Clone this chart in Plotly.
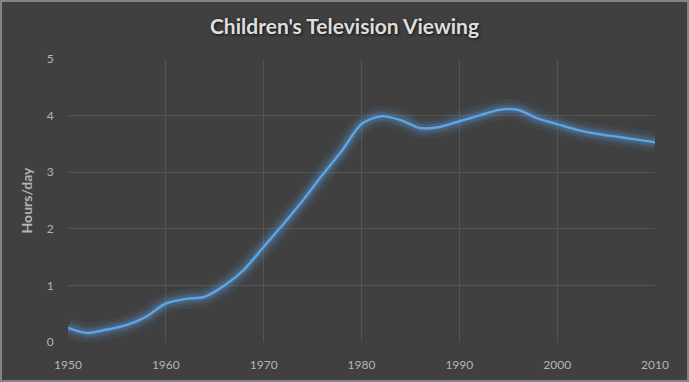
import plotly.graph_objects as go

years = [1950, 1952, 1954, 1956, 1958, 1960, 1962, 1964, 1966, 1968, 1970, 1972, 1974,
         1976, 1978, 1980, 1982, 1984, 1986, 1988, 1990, 1992, 1994, 1996, 1998, 2000,
         2002, 2004, 2006, 2008, 2010]
hours = [0.25, 0.16, 0.22, 0.30, 0.45, 0.68, 0.76, 0.80, 1.00, 1.28, 1.68, 2.08, 2.50,
         2.95, 3.38, 3.85, 3.99, 3.92, 3.78, 3.80, 3.90, 4.00, 4.10, 4.10, 3.95, 3.85,
         3.75, 3.68, 3.63, 3.58, 3.53]
x_ticks = [1950, 1960, 1970, 1980, 1990, 2000, 2010]
y_ticks = [0, 1, 2, 3, 4, 5]

BG = "#404040"
TXT = "#b4b4b4"
GRID = "#545454"
FONT = "Lato"

fig = go.Figure()
# glow layers
for w, a in [(20, 0.08), (13, 0.13), (8, 0.22)]:
    fig.add_trace(go.Scatter(x=years, y=hours, mode="lines",
                             line=dict(color=f"rgba(91,155,213,{a})", width=w, shape="spline", smoothing=0.8),
                             hoverinfo="skip", showlegend=False))
fig.add_trace(go.Scatter(x=years, y=hours, mode="lines",
                         line=dict(color="#5ea3e4", width=2.5, shape="spline", smoothing=0.8),
                         showlegend=False))

W, H = 689, 382
ml, mr, mt, mb = 68, 34, 59, 40
pw, ph = W - ml - mr, H - mt - mb

fig.update_layout(
    width=W, height=H,
    margin=dict(l=ml, r=mr, t=mt, b=mb, autoexpand=False),
    paper_bgcolor=BG, plot_bgcolor=BG,
    font=dict(family=FONT, color=TXT, size=12),
    title=dict(text="Children's Television Viewing", x=0.5, xanchor="center",
               y=1 - 27 / H, yanchor="middle",
               font=dict(family=FONT, size=21, weight="bold", color="#dedede", shadow="1px 1px 3px #111")),
    xaxis=dict(range=[1950, 2010], tickvals=x_ticks, showgrid=True, gridcolor=GRID, gridwidth=1,
               zeroline=False, showline=False, ticks="outside", ticklen=12, tickcolor="rgba(0,0,0,0)",
               tickfont=dict(size=12, color=TXT)),
    yaxis=dict(range=[0, 5], tickvals=y_ticks, showgrid=True, gridcolor=GRID, gridwidth=1,
               zeroline=False, showline=False, ticks="outside", ticklen=11, tickcolor="rgba(0,0,0,0)",
               title=dict(text="Hours/day", font=dict(size=14, weight="bold", color=TXT), standoff=10),
               tickfont=dict(size=12, color=TXT)),
    shapes=[dict(type="rect", xref="paper", yref="paper",
                 x0=-(ml - 1) / pw, x1=1 + (mr - 1) / pw,
                 y0=-(mb - 1) / ph, y1=1 + (mt - 1) / ph,
                 line=dict(color="#9a9a9a", width=1.5), layer="above")],
)

fig.write_html("out.html", config={"displayModeBar": False},
               post_script="document.body.style.margin='0px';document.body.style.overflow='hidden';")
